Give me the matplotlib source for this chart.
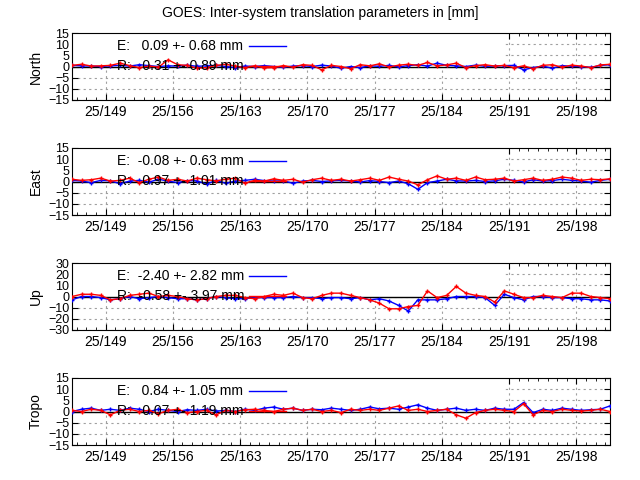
import numpy as np
import matplotlib
matplotlib.use("Agg")
import matplotlib.pyplot as plt
from matplotlib.patches import Rectangle

BLUE, RED = "#0000ff", "#ff0000"
plt.rcParams.update({"font.family": "Liberation Sans", "font.size": 10})

days = [145.5 + i for i in range(57)]
tick_days = [149, 156, 163, 170, 177, 184, 191, 198]
tick_labels = ["25/%d" % d for d in tick_days]

panels = ["North", "East", "Up", "Tropo"]
legend_e = ["E:   0.09 +- 0.68 mm", "E:  -0.08 +- 0.63 mm", "E:  -2.40 +- 2.82 mm", "E:   0.84 +- 1.05 mm"]
legend_r = ["R:   0.31 +- 0.89 mm", "R:   0.97 +- 1.01 mm", "R:  -0.58 +- 3.97 mm", "R:   0.07 +- 1.19 mm"]
ylims = [15, 15, 30, 15]

north_e = [0.5, 0.3, 0.2, 0, 0.3, 0.5, 0.2, 0.8, 0.4, 0, 0.3, 0.2, 0.6, 0.1, 0.3, 0.5, 0, -0.5, 0.2, 0, 0.4, 0, -0.3, 0.2, 0.4, 0, 0.6, 0.2, -0.8, 0, -0.5, 0.3, 0.1, 0.5, -0.2, 0.4, 0.8, 0.2, 1.5, 0.5, 0.3, 0, 0.6, 0.1, 0.2, 0.4, 0.5, -1.5, -0.5, 0.2, -0.8, 0.4, 0.1, 0, -0.4, 0.5, 0.8]
north_r = [0.5, 1.0, 0.2, 0.3, 0.5, 1.5, 0.4, -0.5, 0.2, -0.3, 3.0, 0.8, 0.5, -0.8, -0.5, 0.5, 1.0, 0.2, -0.5, 0.3, -0.6, -0.5, 0.4, -0.3, 0.8, 0.5, -1.5, 0.5, 0, -1.0, 0.8, 0.3, 1.2, -0.2, 0.6, 1.0, 0.5, 1.8, 0.3, 0.7, 1.5, -0.5, 0.4, 0.8, 0.2, 0.5, -0.5, 0.3, -1.0, 0.5, 0.8, -0.3, 0.6, 0.2, -0.5, 0.7, 1.0]
east_e = [0.5, 0.2, -0.5, 0.5, 0.3, -1.0, 0.2, 0.5, -0.3, 1.0, 0.2, -0.5, 0.4, 0.3, -1.2, 0.5, -0.8, 0.2, 0.5, 1.0, 0.4, 0.2, 0.3, -0.8, 0.2, 0.5, 0, 0.3, 0.5, 0.2, -0.2, 0.4, 0, -0.5, 0.2, -1.0, -3.5, -0.5, 0.2, 1.0, 0.3, 0.2, 0.5, 0, 0.3, 1.0, 0.5, -0.2, 0.8, 0.2, 0.4, 1.0, 0.5, 0.2, -0.3, 0.5, 1.0]
east_r = [1.0, 0.5, 0.8, 1.5, 0.2, 0.5, 1.5, -0.5, 1.0, 2.0, 0.5, 1.0, 0.2, 1.5, 0.8, 0.3, 1.0, 1.5, -0.8, 0.5, 0.2, 1.2, 0.5, 1.0, -0.3, 0.8, 1.5, 0.5, 1.0, 0.2, 0.8, 1.5, 0.5, 2.0, 1.0, 0.2, -1.5, 0.8, 2.5, 1.0, 1.5, 0.5, 2.0, 0.8, 1.0, 1.5, 0.2, 0.8, 1.5, 0.5, 1.0, 2.0, 1.5, 0.5, 1.0, 0.8, 1.2]
up_e = [-3, 0, 0, -1, -3, -2, 0, -2, -1, 0, -1, -2, -2, -3, -2, 0, -1, -2, -2, -1, -1, -1, -1, 0, -1, -1, -2, -1, -1, -2,
        -1, -3, -2, -4, -8, -13, -3, -3, -3, -2, 0, 0, 0, -1, -8, 2, -1, -3, 0, 0, -1, -1, -2, -2, -3, -3, -4]
up_r = [0, 2, 2, 1, -3, -2, 1, 2, 3, 0, 1, 0, -2, -3, -2, 0, 1, 1, -1, -2, 0, 2, 1, 3, -1, -2, 1, 3, 3, 1,
        -1, -3, -6, -11, -11, -9, -8, 5, -1, 1, 9, 3, 1, 0, -5, 5, 2, -1, -1, 1, 0, -1, 3, 3, 0, -1, -2]
tropo_e = [0, 1.0, 1.5, 0.5, 1.0, 0.5, 1.5, 1.0, 0, 1.0, 0.5, 0, 0.8, 0.5, 1.0, 0.2, 0.5, 0, 1.0, 0.5, 1.5, 2.0, 1.0, 1.5, 0.5, 1.0, 0.8, 1.5, 1.0, 0.5, 1.0, 2.0, 1.2, 1.5, 1.0, 2.0, 3.0, 1.5, 0.5, 1.0, 1.5, 0.5, 1.0, 0.5, 1.5, 1.0, 1.0, 4.0, -0.5, 1.0, 0.5, 1.5, 1.0, 0.5, 0.8, 1.0, 2.5]
tropo_r = [0.5, 0, 1.0, 0.5, -1.5, 0.5, 1.0, 0, 0.5, -1.0, 0.5, 1.0, -0.5, 0, 0.5, -1.5, 0.5, 0, 0.8, 1.0, 0.5, 0, 1.0, 1.5, 0.5, 1.0, 0, 0.5, -0.5, 1.0, 0.5, 1.0, 0.5, 1.5, 2.5, 0.5, 1.0, 0, 0.5, 1.0, -1.5, -3.0, -0.5, 0.5, 1.0, 0.5, 0, 3.5, -1.5, 0.5, 0, 1.0, 0.5, 0.2, 0.5, 1.0, 0]
series = [(north_e, north_r), (east_e, east_r), (up_e, up_r), (tropo_e, tropo_r)]

fig = plt.figure(figsize=(6.4, 4.8), dpi=100)
fig.text(0.5, 0.965, "GOES: Inter-system translation parameters in [mm]", ha="center", fontsize=10)
tops = [33, 148, 263, 378]
for k, name in enumerate(panels):
    ax = fig.add_axes([72 / 640, 1 - (tops[k] + 67) / 480, 538 / 640, 67 / 480])
    lim = ylims[k]
    ax.set_xlim(145.5, 201.5)
    ax.set_ylim(-lim, lim)
    ax.set_yticks(np.arange(-lim, lim + 1, lim / 3))
    ax.set_xticks(tick_days)
    ax.set_xticklabels(tick_labels)
    ax.set_xticks(np.arange(146, 202, 1), minor=True)
    ax.tick_params(direction="in", top=True, right=True, length=4, labelsize=10)
    ax.tick_params(axis="y", labelsize=9, pad=2)
    ax.tick_params(which="minor", direction="in", top=True, length=2)
    ax.set_axisbelow(True)
    ax.grid(True, ls=(0, (2, 3)), color="#a0a0a0", lw=0.8)
    ax.set_ylabel(name, fontsize=10, labelpad=4)
    ax.add_patch(Rectangle((0, 0.5), (505 - 72) / 538, 0.5, transform=ax.transAxes,
                           fc="white", ec="none", zorder=1.5))
    ax.axhline(0, color="black", lw=1, zorder=2)
    e, r = series[k]
    ax.plot(days, e, color=BLUE, lw=1, marker="+", ms=3, zorder=3)
    ax.plot(days, r, color=RED, lw=1, marker="+", ms=3, zorder=4)
    ax.text(0.083, 0.81, legend_e[k], transform=ax.transAxes, va="center", fontsize=10, zorder=5)
    ax.text(0.083, 0.51, legend_r[k], transform=ax.transAxes, va="center", fontsize=10, zorder=5)
    ax.plot([0.329, 0.398], [0.81, 0.81], transform=ax.transAxes, color=BLUE, lw=1, zorder=5)
    ax.plot([0.329, 0.398], [0.51, 0.51], transform=ax.transAxes, color=RED, lw=1, zorder=5)
fig.savefig("out.png")
